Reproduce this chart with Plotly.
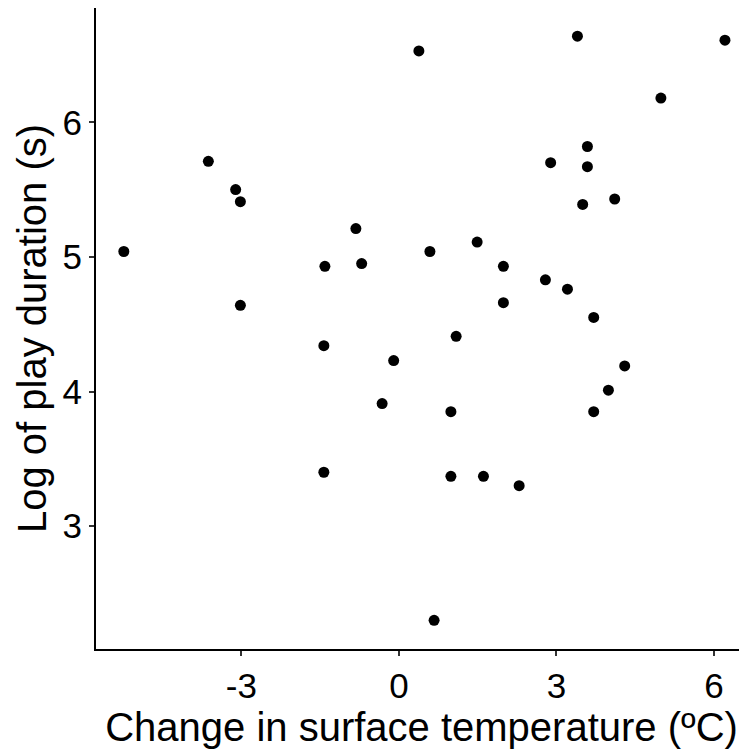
import plotly.graph_objects as go

temp_change = [-5.24, -3.63, -3.11, -3.02, -3.02, -1.41, -1.43, -1.43, -0.82, -0.71,
               -0.10, -0.32, 0.38, 0.59, 0.67, 0.99, 0.99, 1.09, 1.49, 1.61,
               1.99, 1.99, 2.29, 2.79, 2.89, 3.21, 3.40, 3.50, 3.59, 3.59,
               3.71, 3.71, 3.99, 4.11, 4.30, 4.99, 6.21]
log_duration = [5.04, 5.71, 5.50, 5.41, 4.64, 4.93, 4.34, 3.40, 5.21, 4.95,
                4.23, 3.91, 6.53, 5.04, 2.30, 3.85, 3.37, 4.41, 5.11, 3.37,
                4.93, 4.66, 3.30, 4.83, 5.70, 4.76, 6.64, 5.39, 5.82, 5.67,
                4.55, 3.85, 4.01, 5.43, 4.19, 6.18, 6.61]
x_ticks = [-3, 0, 3, 6]
y_ticks = [3, 4, 5, 6]

fig = go.Figure(go.Scatter(
    x=temp_change, y=log_duration, mode="markers",
    marker=dict(color="black", size=11, line=dict(width=0)),
    cliponaxis=False,
))

axis_common = dict(
    showgrid=False, zeroline=False, showline=True, linecolor="black", linewidth=2,
    ticks="outside", ticklen=5, tickwidth=1.5, tickcolor="#333333",
    tickfont=dict(family="Liberation Sans, Arial", size=35, color="black"),
    title_font=dict(family="Liberation Sans, Arial", size=40, color="black"),
)

fig.update_layout(
    width=739, height=743,
    margin=dict(l=88, r=0, t=0, b=102),
    plot_bgcolor="white", paper_bgcolor="white",
    showlegend=False,
    xaxis=dict(range=[-5.77, 6.63], tickvals=x_ticks, ticktext=[str(v) for v in x_ticks],
               title=dict(text="Change in surface temperature (ºC)", standoff=2), **axis_common),
    yaxis=dict(range=[2.087, 6.849], tickvals=y_ticks, ticktext=[str(v) for v in y_ticks],
               title=dict(text="Log of play duration (s)", standoff=4), **axis_common),
)

fig.write_html("out.html")
